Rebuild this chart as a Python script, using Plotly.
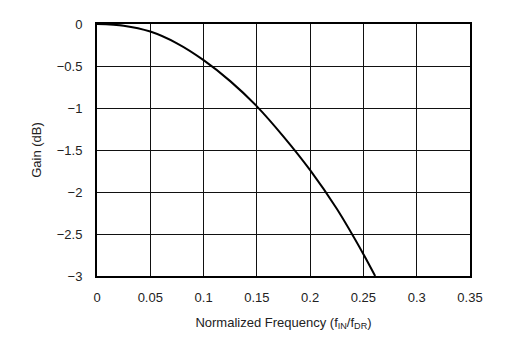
import plotly.graph_objects as go

# Data
freq = [0, 0.025, 0.05, 0.075, 0.1, 0.125, 0.15, 0.175, 0.2, 0.225, 0.25, 0.261]
gain = [0, -0.02, -0.09, -0.23, -0.43, -0.68, -0.98, -1.34, -1.74, -2.2, -2.74, -3.0]

x_ticks = [0, 0.05, 0.1, 0.15, 0.2, 0.25, 0.3, 0.35]
x_ticktext = ["0", "0.05", "0.1", "0.15", "0.2", "0.25", "0.3", "0.35"]
y_ticks = [0, -0.5, -1, -1.5, -2, -2.5, -3]
y_ticktext = ["0", "\u22120.5", "\u22121", "\u22121.5", "\u22122", "\u22122.5", "\u22123"]

fig = go.Figure()
fig.add_trace(go.Scatter(
    x=freq, y=gain, mode="lines",
    line=dict(color="black", width=2, shape="spline", smoothing=0.8),
    hoverinfo="skip", showlegend=False,
))

font_family = "Liberation Sans, Arial, sans-serif"
fig.update_layout(
    width=514, height=340,
    margin=dict(l=97, r=44, t=24, b=64),
    paper_bgcolor="white", plot_bgcolor="white",
    font=dict(family=font_family, size=13, color="#222"),
    xaxis=dict(
        range=[0, 0.35], tickvals=x_ticks, ticktext=x_ticktext,
        showgrid=True, gridcolor="#111", gridwidth=1,
        showline=True, linecolor="black", linewidth=2, mirror=True,
        zeroline=False, ticks="", ticklabelstandoff=8,
        title=dict(text="Normalized Frequency (f<sub>IN</sub>/f<sub>DR</sub>)",
                   font=dict(size=13, color="#222"), standoff=14),
        fixedrange=True,
    ),
    yaxis=dict(
        range=[-3, 0], tickvals=y_ticks, ticktext=y_ticktext,
        showgrid=True, gridcolor="#111", gridwidth=1,
        showline=True, linecolor="black", linewidth=2, mirror=True,
        zeroline=False, ticks="", ticklabelstandoff=10,
        title=dict(text="Gain (dB)", font=dict(size=13, color="#222"), standoff=12),
        fixedrange=True,
    ),
)

fig.write_html("out.html")
